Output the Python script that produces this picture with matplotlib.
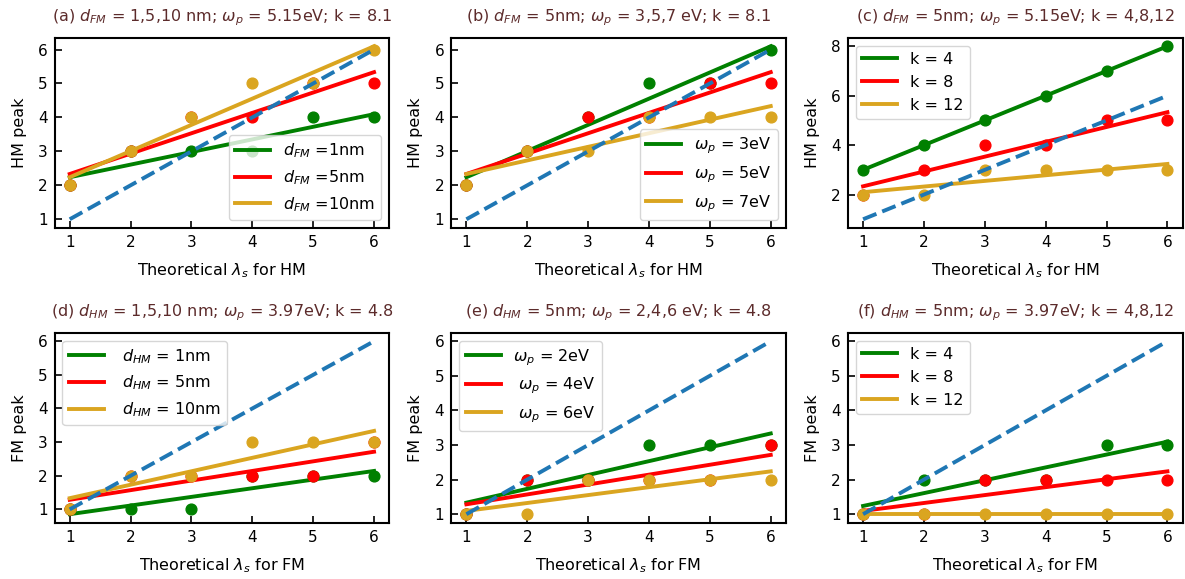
import numpy as np
import matplotlib
matplotlib.use("Agg")
import matplotlib.pyplot as plt

# theoretical lambda_s on the x axis
x = [1, 2, 3, 4, 5, 6]

# (a) HM, d_FM varies
a_green = [2, 3, 3, 3, 4, 4]
a_red = [2, 3, 4, 4, 5, 5]
a_gold = [2, 3, 4, 5, 5, 6]
# (b) HM, omega_p varies
b_green = [2, 3, 4, 5, 5, 6]
b_red = [2, 3, 4, 4, 5, 5]
b_gold = [2, 3, 3, 4, 4, 4]
# (c) HM, k varies
c_green = [3, 4, 5, 6, 7, 8]
c_red = [2, 3, 4, 4, 5, 5]
c_gold = [2, 2, 3, 3, 3, 3]
# (d) FM, d_HM varies
d_green = [1, 1, 1, 2, 2, 2]
d_red = [1, 2, 2, 2, 2, 3]
d_gold = [1, 2, 2, 3, 3, 3]
# (e) FM, omega_p varies
e_green = [1, 2, 2, 3, 3, 3]
e_red = [1, 2, 2, 2, 2, 3]
e_gold = [1, 1, 2, 2, 2, 2]
# (f) FM, k varies
f_green = [1, 2, 2, 2, 3, 3]
f_red = [1, 1, 2, 2, 2, 2]
f_gold = [1, 1, 1, 1, 1, 1]

titles = [r'(a) $d_{FM}$ = 1,5,10 nm; $\omega_p$ = 5.15eV; k = 8.1',
          r'(b) $d_{FM}$ = 5nm; $\omega_p$ = 3,5,7 eV; k = 8.1',
          r'(c) $d_{FM}$ = 5nm; $\omega_p$ = 5.15eV; k = 4,8,12',
          r'(d) $d_{HM}$ = 1,5,10 nm; $\omega_p$ = 3.97eV; k = 4.8',
          r'(e) $d_{HM}$ = 5nm; $\omega_p$ = 2,4,6 eV; k = 4.8',
          r'(f) $d_{HM}$ = 5nm; $\omega_p$ = 3.97eV; k = 4,8,12']

labels = [[r'$d_{FM}$ =1nm', r'$d_{FM}$ =5nm', r'$d_{FM}$ =10nm'],
          [r'$\omega_p$ = 3eV', r'$\omega_p$ = 5eV', r'$\omega_p$ = 7eV'],
          ['k = 4', 'k = 8', 'k = 12'],
          [r' $d_{HM}$ = 1nm', r' $d_{HM}$ = 5nm', r' $d_{HM}$ = 10nm'],
          [r'$\omega_p$ = 2eV', r' $\omega_p$ = 4eV', r' $\omega_p$ = 6eV'],
          ['k = 4', 'k = 8', 'k = 12']]

series = [(a_green, a_red, a_gold), (b_green, b_red, b_gold), (c_green, c_red, c_gold),
          (d_green, d_red, d_gold), (e_green, e_red, e_gold), (f_green, f_red, f_gold)]

legend_loc = ['lower right', 'lower right', 'upper left',
              'upper left', 'upper left', 'upper left']

colors = ['green', 'red', 'goldenrod']

fig, axes = plt.subplots(2, 3, figsize=(11.85, 5.79), dpi=100)
fig.subplots_adjust(left=0.046, right=0.998, top=0.935, bottom=0.097,
                    wspace=0.185, hspace=0.55)

for i, ax in enumerate(axes.flat):
    for ys, c, lab in zip(series[i], colors, labels[i]):
        ax.scatter(x, ys, color=c, s=60, zorder=2)
        p = np.polyfit(x, ys, 1)
        ax.plot(x, np.polyval(p, x), color=c, lw=2.8, label=lab, zorder=2)
    ax.plot(x, x, '--', color='tab:blue', lw=2.8, zorder=3)
    ax.set_title(titles[i], color='#5c2b2b', fontsize=11.5, pad=12)
    hm = 'HM' if i < 3 else 'FM'
    ax.set_xlabel(r'Theoretical $\lambda_s$ for ' + hm, fontsize=11.5, labelpad=8)
    ax.set_ylabel(hm + ' peak', fontsize=11.5, labelpad=8)
    ax.tick_params(direction='in', length=5, width=1.2, labelsize=11, pad=5)
    for s in ax.spines.values():
        s.set_linewidth(1.5)
    ax.set_xticks(x)
    ax.legend(loc=legend_loc[i], fontsize=11.5, handlelength=2.2)

axes[0, 2].set_yticks([2, 4, 6, 8])

fig.savefig('out.png')
